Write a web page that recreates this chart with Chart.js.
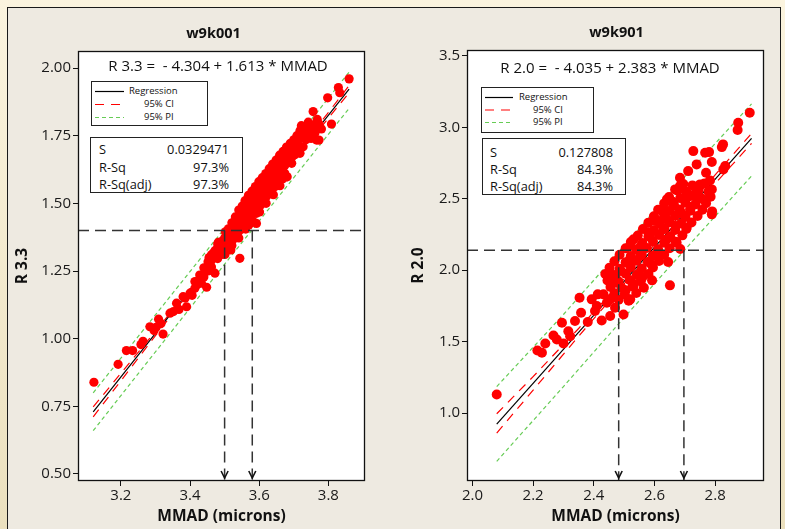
<!DOCTYPE html>
<html><head><meta charset="utf-8">
<script src="https://cdn.jsdelivr.net/npm/chart.js@4.4.0/dist/chart.umd.min.js"></script>
<style>
html,body{margin:0;padding:0;width:785px;height:529px;overflow:hidden;background:linear-gradient(#fbf4df,#ebe0be);}
#panel{position:absolute;left:7px;top:7px;width:772px;height:540px;background:#eeeae1;border-left:1.5px solid #1a1a1a;border-top:1.5px solid #1a1a1a;border-right:1.5px solid #1a1a1a;}
canvas{position:absolute;top:0;}
.t{position:absolute;font-family:'Open Sans',sans-serif;color:#111;white-space:nowrap;transform:translate(-50%,-50%);line-height:1;}
.box{position:absolute;border:1.5px solid #222;background:#fff;box-sizing:border-box;font-family:'Open Sans',sans-serif;color:#111;}
.box span{position:absolute;white-space:nowrap;line-height:1;transform:translateY(-50%);}
.box svg{position:absolute;left:0;top:0;}
</style></head>
<body>
<div id="panel"></div>
<canvas id="c1" width="395" height="529" style="left:0;width:395px;height:529px"></canvas>
<canvas id="c2" width="390" height="529" style="left:395px;width:390px;height:529px"></canvas>

<div class="t" style="left:213.5px;top:32.5px;font-size:14.5px;font-weight:bold">w9k001</div>
<div class="t" style="left:616.5px;top:31.5px;font-size:14.5px;font-weight:bold">w9k901</div>
<div class="t" style="left:218px;top:65px;font-size:15px">R 3.3 =&nbsp; - 4.304 + 1.613 * MMAD</div>
<div class="t" style="left:610px;top:67px;font-size:15px">R 2.0 =&nbsp; - 4.035 + 2.383 * MMAD</div>

<div class="box" style="left:91px;top:81px;width:117px;height:45px;font-size:9.5px">
  <svg width="117" height="45">
    <line x1="3" y1="9.5" x2="32" y2="9.5" stroke="#000" stroke-width="1.2"/>
    <line x1="3" y1="22.5" x2="32" y2="22.5" stroke="#f00" stroke-width="1.2" stroke-dasharray="9,7"/>
    <line x1="3" y1="35.5" x2="32" y2="35.5" stroke="#66cc55" stroke-width="1.2" stroke-dasharray="4,3"/>
  </svg>
  <span style="left:37px;top:9px">Regression</span>
  <span style="left:52px;top:22px">95% CI</span>
  <span style="left:52px;top:35px">95% PI</span>
</div>
<div class="box" style="left:90px;top:137px;width:153px;height:56px;font-size:12.8px">
  <span style="left:8px;top:11px">S</span><span style="right:13px;top:11px">0.0329471</span>
  <span style="left:8px;top:28.5px">R-Sq</span><span style="right:13px;top:28.5px">97.3%</span>
  <span style="left:8px;top:46px">R-Sq(adj)</span><span style="right:13px;top:46px">97.3%</span>
</div>

<div class="box" style="left:481px;top:87px;width:113px;height:46px;font-size:9.5px">
  <svg width="113" height="46">
    <line x1="3" y1="9.5" x2="31" y2="9.5" stroke="#000" stroke-width="1.2"/>
    <line x1="3" y1="22" x2="31" y2="22" stroke="#f00" stroke-width="1.2" stroke-dasharray="9,7"/>
    <line x1="3" y1="34.5" x2="31" y2="34.5" stroke="#66cc55" stroke-width="1.2" stroke-dasharray="4,3"/>
  </svg>
  <span style="left:37px;top:9px">Regression</span>
  <span style="left:51px;top:21.5px">95% CI</span>
  <span style="left:51px;top:34px">95% PI</span>
</div>
<div class="box" style="left:482px;top:138px;width:144px;height:57px;font-size:12.8px">
  <span style="left:7px;top:13px">S</span><span style="right:12px;top:13px">0.127808</span>
  <span style="left:7px;top:30px">R-Sq</span><span style="right:12px;top:30px">84.3%</span>
  <span style="left:7px;top:46.5px">R-Sq(adj)</span><span style="right:12px;top:46.5px">84.3%</span>
</div>

<script>
const FONT = "'Open Sans', sans-serif";

// ---------- LEFT PANEL (w9k001) ----------
const leftXRange = [3.076, 3.906];
const leftYRange = [0.474, 2.063];
const leftPoints = [
 [3.122,0.839],[3.192,0.905],[3.216,0.956],[3.234,0.956],[3.258,0.978],[3.264,0.990],[3.284,1.044],[3.296,1.030],[3.302,1.042],[3.309,1.072],
 [3.322,1.017],[3.316,1.056],[3.342,1.094],[3.352,1.100],[3.361,1.131],[3.368,1.108],[3.380,1.155],[3.390,1.118],[3.386,1.150],[3.400,1.168],
 [3.406,1.160],[3.414,1.186],[3.414,1.211],[3.421,1.200],[3.428,1.235],[3.425,1.215],[3.448,1.190],[3.443,1.247],[3.437,1.229],[3.433,1.205],
 [3.440,1.262],[3.440,1.228],[3.452,1.284],[3.452,1.250],[3.455,1.300],[3.462,1.265],[3.462,1.310],[3.462,1.290],[3.467,1.316],[3.472,1.242],
 [3.472,1.325],[3.472,1.300],[3.480,1.335],[3.480,1.296],[3.480,1.350],[3.486,1.340],[3.486,1.318],[3.492,1.311],[3.492,1.360],[3.492,1.338],
 [3.500,1.372],[3.500,1.330],[3.500,1.355],[3.506,1.340],[3.506,1.385],[3.512,1.384],[3.512,1.345],[3.512,1.366],[3.518,1.395],[3.518,1.328],
 [3.522,1.362],[3.522,1.398],[3.522,1.415],[3.528,1.389],[3.528,1.372],[3.533,1.380],[3.533,1.412],[3.533,1.425],[3.540,1.430],[3.540,1.395],
 [3.540,1.418],[3.544,1.297],[3.544,1.414],[3.550,1.441],[3.550,1.405],[3.550,1.462],[3.556,1.425],[3.556,1.470],[3.556,1.452],[3.564,1.488],
 [3.564,1.445],[3.564,1.475],[3.564,1.439],[3.570,1.468],[3.570,1.420],[3.570,1.500],[3.578,1.460],[3.578,1.495],[3.578,1.510],[3.578,1.488],
 [3.585,1.478],[3.585,1.525],[3.585,1.500],[3.592,1.426],[3.592,1.463],[3.592,1.512],[3.597,1.543],[3.597,1.520],[3.597,1.488],[3.604,1.538],
 [3.604,1.494],[3.604,1.515],[3.612,1.512],[3.612,1.545],[3.612,1.530],[3.621,1.568],[3.621,1.525],[3.621,1.555],[3.631,1.537],[3.631,1.585],
 [3.631,1.560],[3.640,1.598],[3.640,1.560],[3.640,1.574],[3.645,1.561],[3.645,1.590],[3.655,1.568],[3.655,1.617],[3.655,1.595],[3.660,1.642],
 [3.660,1.610],[3.667,1.625],[3.667,1.590],[3.674,1.611],[3.674,1.666],[3.674,1.640],[3.679,1.672],[3.679,1.598],[3.679,1.650],[3.686,1.660],
 [3.686,1.690],[3.694,1.648],[3.694,1.700],[3.694,1.672],[3.703,1.697],[3.703,1.680],[3.703,1.720],[3.710,1.705],[3.710,1.725],[3.718,1.740],
 [3.718,1.685],[3.718,1.768],[3.727,1.709],[3.727,1.745],[3.735,1.735],[3.735,1.768],[3.742,1.783],[3.742,1.752],[3.750,1.740],[3.750,1.768],
 [3.758,1.759],[3.758,1.790],[3.766,1.734],[3.766,1.780],[3.773,1.793],[3.780,1.775],
 [3.860,1.960],[3.833,1.909],[3.829,1.928],[3.798,1.890],[3.809,1.793],[3.756,1.839],[3.722,1.787],[3.742,1.800],[3.771,1.793],[3.761,1.759],
 [3.773,1.734],[3.768,1.810],
 [3.482,1.356],[3.502,1.395],[3.511,1.406],[3.521,1.428],[3.531,1.450],[3.541,1.475],[3.543,1.456],[3.551,1.490],[3.559,1.510],[3.561,1.494],
 [3.569,1.530],[3.572,1.514],[3.579,1.545],[3.582,1.530],[3.589,1.562],[3.592,1.548],[3.599,1.580],[3.602,1.561],[3.609,1.595],[3.612,1.576],
 [3.619,1.610],[3.622,1.592],[3.629,1.628],[3.632,1.608],[3.639,1.645],[3.642,1.622],[3.649,1.660],[3.652,1.641],[3.659,1.678],[3.662,1.655],
 [3.669,1.692],[3.672,1.672],[3.679,1.708],[3.682,1.688],[3.690,1.722],[3.700,1.735],[3.709,1.750],
 [3.501,1.311],[3.521,1.344],[3.541,1.372],[3.561,1.405],[3.580,1.438],[3.601,1.468],[3.620,1.500],[3.641,1.532],[3.660,1.565],[3.681,1.598]
];
const leftReg = [[3.12,0.729],[3.86,1.922]];
const leftCIUpper = [[3.12,0.748],[3.30,1.027],[3.50,1.346],[3.70,1.671],[3.86,1.935]];
const leftCILower = [[3.12,0.711],[3.30,1.011],[3.50,1.337],[3.70,1.657],[3.86,1.909]];
const leftPIUpper = [[3.12,0.800],[3.50,1.408],[3.86,1.985]];
const leftPILower = [[3.12,0.660],[3.50,1.275],[3.86,1.851]];
const leftRefY = 1.40;
const leftRefX = [3.50, 3.58];
const leftXTickStep = 0.2, leftYTickStep = 0.25;

// ---------- RIGHT PANEL (w9k901) ----------
const rightXRange = [1.982, 2.961];
const rightYRange = [0.524, 3.542];
const rightPoints = [
 [2.080,1.130],[2.214,1.438],[2.229,1.422],[2.240,1.487],[2.267,1.543],[2.278,1.515],[2.300,1.487],[2.295,1.632],[2.316,1.573],[2.322,1.538],
 [2.338,1.644],[2.353,1.807],[2.358,1.702],[2.380,1.637],[2.393,1.796],[2.404,1.714],[2.413,1.831],[2.426,1.648],[2.432,1.831],[2.443,1.772],
 [2.454,1.796],[2.454,1.679],[2.465,1.912],[2.470,1.737],[2.476,1.912],[2.498,1.690],[2.520,1.796],[2.531,1.889],[2.651,1.894],[2.410,1.749],
 [2.914,3.103],[2.876,3.033],[2.874,2.982],[2.826,2.881],[2.822,2.862],[2.728,2.834],[2.767,2.823],[2.780,2.827],[2.789,2.758],[2.739,2.741],
 [2.833,2.729],[2.827,2.706],[2.770,2.683],[2.711,2.694],[2.684,2.648],[2.783,2.629],[2.750,2.601],[2.684,2.589],[2.668,2.566],[2.789,2.566],
 [2.641,2.496],[2.739,2.519],[2.717,2.519],[2.629,2.426],[2.662,2.449],[2.761,2.496],[2.789,2.391],[2.602,2.344],[2.641,2.356],[2.629,2.286],
 [2.706,2.298],[2.673,2.193],[2.585,2.239],[2.531,2.216],[2.520,2.169],[2.553,2.099],[2.509,2.053],[2.454,1.982],[2.465,1.924],
 [2.695,2.603],[2.725,2.594],[2.765,2.608],
 [2.675,2.558],[2.705,2.549],[2.745,2.562],[2.778,2.551],
 [2.648,2.512],[2.685,2.505],[2.712,2.518],[2.752,2.507],[2.785,2.515],
 [2.632,2.468],[2.664,2.460],[2.702,2.472],[2.735,2.461],[2.770,2.469],
 [2.612,2.423],[2.648,2.415],[2.683,2.426],[2.718,2.417],[2.758,2.424],[2.790,2.412],
 [2.598,2.378],[2.632,2.370],[2.668,2.381],[2.702,2.372],[2.742,2.379],
 [2.580,2.333],[2.618,2.326],[2.650,2.336],[2.688,2.327],[2.722,2.334],
 [2.562,2.288],[2.598,2.280],[2.633,2.291],[2.668,2.282],[2.705,2.289],
 [2.545,2.243],[2.580,2.236],[2.615,2.246],[2.652,2.237],[2.692,2.244],
 [2.522,2.198],[2.560,2.190],[2.595,2.201],[2.632,2.192],[2.670,2.199],
 [2.505,2.153],[2.540,2.146],[2.575,2.156],[2.612,2.147],[2.650,2.154],[2.685,2.148],
 [2.485,2.108],[2.522,2.100],[2.558,2.111],[2.595,2.102],[2.632,2.109],
 [2.468,2.063],[2.505,2.056],[2.540,2.066],[2.578,2.057],[2.615,2.064],[2.645,2.058],
 [2.452,2.018],[2.485,2.010],[2.522,2.021],[2.558,2.012],[2.595,2.019],
 [2.438,1.973],[2.472,1.966],[2.505,1.976],[2.542,1.967],[2.580,1.974],
 [2.445,1.928],[2.482,1.921],[2.518,1.931],[2.555,1.922],[2.592,1.929],
 [2.455,1.883],[2.492,1.876],[2.528,1.886],[2.565,1.877],
 [2.468,1.838],[2.502,1.831],[2.540,1.840],
 [2.482,1.793],[2.515,1.786],
 [2.690,2.575],[2.730,2.530],[2.660,2.480],[2.720,2.445],[2.630,2.400],[2.690,2.395],[2.605,2.355],[2.670,2.310],
 [2.580,2.265],[2.640,2.215],[2.555,2.170],[2.610,2.125],[2.520,2.080],[2.590,2.040],[2.490,1.995],[2.560,1.950],
 [2.465,1.950],[2.530,1.905],[2.505,1.860]
];
const rightReg = [[2.08,0.922],[2.92,2.923]];
const rightCIUpper = [[2.08,0.995],[2.20,1.255],[2.35,1.592],[2.53,2.010],[2.70,2.422],[2.80,2.667],[2.92,2.958]];
const rightCILower = [[2.08,0.860],[2.20,1.160],[2.35,1.538],[2.53,1.978],[2.70,2.376],[2.80,2.607],[2.92,2.888]];
const rightPIUpper = [[2.08,1.185],[2.30,1.690],[2.50,2.170],[2.70,2.655],[2.92,3.165]];
const rightPILower = [[2.08,0.662],[2.30,1.185],[2.50,1.668],[2.70,2.143],[2.92,2.660]];
const rightRefY = 2.14;
const rightRefX = [2.482, 2.697];
const rightXTickStep = 0.2, rightYTickStep = 0.5;

// ---------- helpers ----------
const pts = a => a.map(p => ({x: p[0], y: p[1]}));

const framePlugin = {
  id: 'frame',
  beforeDraw(chart) {
    const {ctx, chartArea: a} = chart;
    ctx.save(); ctx.fillStyle = '#fff';
    ctx.fillRect(a.left, a.top, a.right - a.left, a.bottom - a.top);
    ctx.restore();
  },
  afterDraw(chart, args, opts) {
    const {ctx, chartArea: a, scales} = chart;
    ctx.save();
    ctx.strokeStyle = '#111'; ctx.lineWidth = 1.3;
    ctx.strokeRect(a.left + 0.5, a.top + 0.5, a.right - a.left - 1, a.bottom - a.top - 1);
    ctx.strokeStyle = '#111'; ctx.lineWidth = 1.6; ctx.setLineDash([]);
    (opts.arrows || []).forEach(v => {
      const px = scales.x.getPixelForValue(v);
      const py = a.bottom - 3;
      ctx.beginPath();
      ctx.moveTo(px - 3.5, py - 7); ctx.lineTo(px, py); ctx.lineTo(px + 3.5, py - 7);
      ctx.stroke();
    });
    ctx.restore();
  }
};

function makeChart(id, cfg) {
  const refColor = '#333';
  const ds = [];
  ds.push({data: pts([[cfg.xr[0], cfg.refY],[cfg.xr[1], cfg.refY]]), showLine: true, pointRadius: 0,
           borderColor: refColor, borderWidth: 1.5, borderDash: [11, 6], order: 0});
  cfg.refX.forEach(v => ds.push({data: pts([[v, cfg.refY],[v, cfg.yr[0]]]), showLine: true, pointRadius: 0,
           borderColor: refColor, borderWidth: 1.5, borderDash: [11, 6], order: 0}));
  ds.push({data: pts(cfg.points), pointRadius: cfg.r, pointBackgroundColor: '#ff0000', pointBorderWidth: 0,
           borderColor: '#ff0000', showLine: false, order: 1});
  ds.push({data: pts(cfg.reg), showLine: true, pointRadius: 0, borderColor: '#000', borderWidth: 1.2, order: 2});
  [cfg.ciU, cfg.ciL].forEach(d => ds.push({data: pts(d), showLine: true, pointRadius: 0, borderColor: '#ff0000',
           borderWidth: 1.2, borderDash: [9, 7], order: 3}));
  [cfg.piU, cfg.piL].forEach(d => ds.push({data: pts(d), showLine: true, pointRadius: 0, borderColor: '#66cc55',
           borderWidth: 1.2, borderDash: [4, 3], order: 4}));

  return new Chart(document.getElementById(id), {
    type: 'scatter',
    data: {datasets: ds},
    options: {
      responsive: false, animation: false, events: [],
      layout: {padding: {top: cfg.top, right: cfg.right, left: 0, bottom: 0}},
      plugins: {legend: {display: false}, tooltip: {enabled: false}, frame: {arrows: cfg.refX}},
      scales: {
        x: {type: 'linear', min: cfg.xr[0], max: cfg.xr[1],
            afterFit: s => { s.height = 48; },
            ticks: {stepSize: cfg.xStep, includeBounds: false, autoSkip: false, maxRotation: 0,
                    font: {family: FONT, size: 15}, color: '#1a1a1a', padding: 1,
                    callback: v => Number(v).toFixed(1)},
            grid: {display: true, drawOnChartArea: false, drawTicks: true, tickLength: 5, color: '#111'},
            border: {display: false},
            title: {display: true, text: 'MMAD (microns)', color: '#111',
                    font: {family: FONT, size: 15.5, weight: 'bold'}, padding: {top: 0, bottom: 3.5}}},
        y: {type: 'linear', min: cfg.yr[0], max: cfg.yr[1],
            afterFit: s => { s.width = cfg.yw; },
            ticks: {stepSize: cfg.yStep, includeBounds: false, autoSkip: false,
                    font: {family: FONT, size: 15}, color: '#1a1a1a', padding: 2,
                    callback: v => Number(v).toFixed(cfg.yDec)},
            grid: {display: true, drawOnChartArea: false, drawTicks: true, tickLength: 5, color: '#111'},
            border: {display: false},
            title: {display: true, text: cfg.yTitle, color: '#111',
                    font: {family: FONT, size: 15.5, weight: 'bold'}, padding: {top: cfg.yTitlePad, bottom: 0}}}
      }
    },
    plugins: [framePlugin]
  });
}

makeChart('c1', {xr: leftXRange, yr: leftYRange, points: leftPoints, reg: leftReg,
  ciU: leftCIUpper, ciL: leftCILower, piU: leftPIUpper, piL: leftPILower,
  refY: leftRefY, refX: leftRefX, xStep: leftXTickStep, yStep: leftYTickStep, yDec: 2,
  yTitle: 'R 3.3', top: 51, right: 30, yw: 78, yTitlePad: 13.5, r: 4.6});

makeChart('c2', {xr: rightXRange, yr: rightYRange, points: rightPoints, reg: rightReg,
  ciU: rightCIUpper, ciL: rightCILower, piU: rightPIUpper, piL: rightPILower,
  refY: rightRefY, refX: rightRefX, xStep: rightXTickStep, yStep: rightYTickStep, yDec: 1,
  yTitle: 'R 2.0', top: 50, right: 21, yw: 72, yTitlePad: 14.7, r: 5});
</script>
</body></html>
